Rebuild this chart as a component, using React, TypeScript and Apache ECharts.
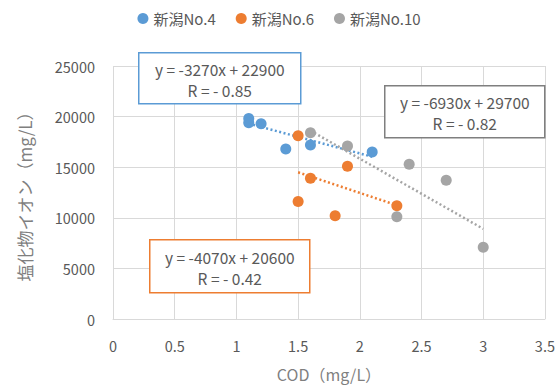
import React, { useEffect, useRef } from "react";
import * as echarts from "echarts";

const seriesNames = ["新潟No.4", "新潟No.6", "新潟No.10"];
const colors = ["#5B9BD5", "#ED7D31", "#A5A5A5"];

const no4X = [1.1, 1.1, 1.2, 1.4, 1.6, 2.1];
const no4Y = [19800, 19400, 19300, 16800, 17200, 16500];
const no6X = [1.5, 1.9, 1.6, 1.5, 1.8, 2.3];
const no6Y = [18100, 15100, 13900, 11600, 10200, 11200];
const no10X = [1.6, 1.9, 2.4, 2.7, 2.3, 3.0];
const no10Y = [18400, 17100, 15300, 13700, 10100, 7100];

const slopes = [-3270, -4070, -6930];
const intercepts = [22900, 20600, 29700];
const rValues = ["- 0.85", "- 0.42", "- 0.82"];

const xTicks = [0, 0.5, 1, 1.5, 2, 2.5, 3, 3.5];
const yTicks = [0, 5000, 10000, 15000, 20000, 25000];

const FONT = "'Noto Sans CJK JP', 'Noto Sans', sans-serif";
const TEXT = "#595959";

export default function App() {
  const ref = useRef<HTMLDivElement>(null);
  useEffect(() => {
    if (!ref.current) return;
    const chart = echarts.init(ref.current, null, { renderer: "svg" });
    const xs = [no4X, no6X, no10X];
    const ys = [no4Y, no6Y, no10Y];
    const scatter = seriesNames.map((name, i) => ({
      name,
      type: "scatter",
      symbol: "circle",
      symbolSize: 11,
      itemStyle: { color: colors[i], opacity: 1 },
      data: xs[i].map((x, j) => [x, ys[i][j]]),
      z: 3,
    }));
    const trends = seriesNames.map((name, i) => {
      const lo = Math.min(...xs[i]);
      const hi = Math.max(...xs[i]);
      return {
        name: name + " trend",
        type: "line",
        symbol: "none",
        lineStyle: { color: colors[i], type: [2, 2.5], width: 2.5 },
        data: [
          [lo, slopes[i] * lo + intercepts[i]],
          [hi, slopes[i] * hi + intercepts[i]],
        ],
        z: 2,
        silent: true,
      };
    });
    const eq = (i: number) =>
      `y = ${slopes[i]}x + ${intercepts[i]}\nR = ${rValues[i]}`;
    const box = (i: number, x: number, y: number, w: number, h: number) => ({
      type: "group",
      left: x,
      top: y,
      z: 100,
      children: [
        {
          type: "rect",
          z: 100,
          shape: { x: 0, y: 0, width: w, height: h },
          style: { fill: "#fff", stroke: i === 2 ? "#7F7F7F" : colors[i], lineWidth: 1.5 },
        },
        {
          type: "text",
          z: 101,
          x: w / 2,
          y: h / 2 + 1,
          style: {
            text: eq(i),
            fill: TEXT,
            font: `15.5px ${FONT}`,
            align: "center",
            verticalAlign: "middle",
            lineHeight: 21,
          },
        },
      ],
    });
    chart.setOption({
      animation: false,
      textStyle: { fontFamily: FONT },
      legend: {
        data: seriesNames,
        top: 6,
        left: "center",
        icon: "circle",
        itemWidth: 11,
        itemHeight: 11,
        itemGap: 20,
        textStyle: { color: TEXT, fontSize: 15, fontFamily: FONT },
      },
      grid: { left: 113, right: 13, top: 66, bottom: 65, containLabel: false },
      xAxis: {
        type: "value",
        min: xTicks[0],
        max: xTicks[xTicks.length - 1],
        interval: 0.5,
        name: "COD（mg/L）",
        nameLocation: "middle",
        nameGap: 47,
        nameTextStyle: { color: "#7F7F7F", fontSize: 16, fontFamily: FONT },
        axisLine: { show: true, lineStyle: { color: "#D9D9D9" } },
        axisTick: { show: false },
        axisLabel: { color: TEXT, fontSize: 14.5, margin: 19 },
        splitLine: { show: true, lineStyle: { color: "#D9D9D9" } },
      },
      yAxis: {
        type: "value",
        min: yTicks[0],
        max: yTicks[yTicks.length - 1],
        interval: 5000,
        name: "塩化物イオン（mg/L）",
        nameLocation: "middle",
        nameGap: 80,
        nameRotate: 90,
        nameTextStyle: { color: "#7F7F7F", fontSize: 17, fontFamily: FONT },
        axisLine: { show: false },
        axisTick: { show: false },
        axisLabel: { color: TEXT, fontSize: 14.5, margin: 18, formatter: (v: number) => String(v) },
        splitLine: { show: true, lineStyle: { color: "#D9D9D9" } },
      },
      series: [...trends, ...scatter],
      graphic: [
        box(0, 138, 52, 162, 51),
        box(2, 384, 85, 160, 52),
        box(1, 149, 239, 160, 53),
      ],
    });
    return () => chart.dispose();
  }, []);
  return (
    <div
      ref={ref}
      style={{ position: "fixed", left: 0, top: 0, width: 558, height: 387, background: "#fff" }}
    />
  );
}
